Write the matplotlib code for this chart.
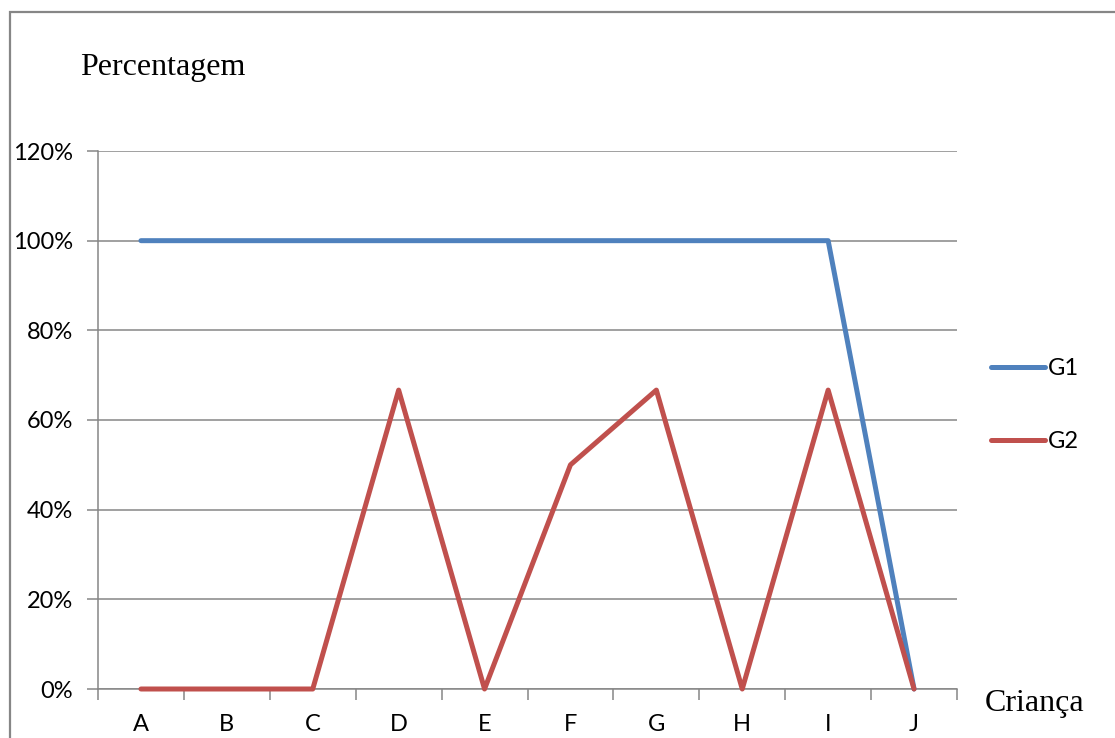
import matplotlib
matplotlib.use("Agg")
import matplotlib.pyplot as plt
from matplotlib.patches import Rectangle
from matplotlib.ticker import FixedLocator, PercentFormatter

# Data
criancas = ["A", "B", "C", "D", "E", "F", "G", "H", "I", "J"]
g1 = [1.0, 1.0, 1.0, 1.0, 1.0, 1.0, 1.0, 1.0, 1.0, 0.0]
g2 = [0.0, 0.0, 0.0, 0.6667, 0.0, 0.5, 0.6667, 0.0, 0.6667, 0.0]
y_ticks = [0.0, 0.2, 0.4, 0.6, 0.8, 1.0, 1.2]

W, H = 1115, 738
fig = plt.figure(figsize=(W / 100, H / 100), dpi=100)
fig.patch.set_facecolor("white")

grey = "#868686"
blue = "#4F81BD"
red = "#C0504D"
tick_font = "Lato"
serif = "Liberation Serif"
tick_size = 17

# Chart frame (extends past the right and bottom edges)
fig.patches.append(Rectangle((10 / W, -0.05), 1.2, (H - 12) / H + 0.05,
                             transform=fig.transFigure, fill=False,
                             edgecolor=grey, linewidth=1.6))

ax = fig.add_axes([98 / W, (H - 689) / H, (957 - 98) / W, (689 - 151) / H])
x = list(range(len(criancas)))

ax.plot(x, g1, color=blue, linewidth=3.6, solid_capstyle="round",
        solid_joinstyle="round", label="G1", clip_on=False, zorder=3)
ax.plot(x, g2, color=red, linewidth=3.6, solid_capstyle="round",
        solid_joinstyle="round", label="G2", clip_on=False, zorder=4)

ax.set_xlim(-0.5, len(criancas) - 0.5)
ax.set_ylim(0, 1.2)

ax.set_yticks(y_ticks)
ax.yaxis.set_major_formatter(PercentFormatter(1.0, decimals=0))
ax.grid(axis="y", color=grey, linewidth=1.1)
ax.set_axisbelow(True)

# Category labels centred, tick marks on category boundaries
ax.set_xticks(x)
ax.set_xticklabels(criancas)
ax.xaxis.set_minor_locator(FixedLocator([i - 0.5 for i in range(len(criancas) + 1)]))
ax.tick_params(axis="x", which="major", length=0, pad=18)
ax.tick_params(axis="x", which="minor", length=8, width=1.1, color=grey, direction="out")
ax.tick_params(axis="y", length=8, width=1.1, color=grey, direction="out", pad=10)

for lab in ax.get_xticklabels() + ax.get_yticklabels():
    lab.set_fontfamily(tick_font)
    lab.set_fontsize(tick_size)
    lab.set_color("black")

for side in ("top", "right"):
    ax.spines[side].set_visible(False)
for side in ("left", "bottom"):
    ax.spines[side].set_color(grey)
    ax.spines[side].set_linewidth(1.1)

fig.text(80 / W, 1 - 68 / H, "Percentagem", fontfamily=serif, fontsize=23,
         ha="left", va="center")
fig.text(985 / W, 1 - 703 / H, "Criança", fontfamily=serif, fontsize=23,
         ha="left", va="center")

leg = ax.legend(loc="center left", bbox_to_anchor=(991 / W, 1 - 405 / H),
                bbox_transform=fig.transFigure, frameon=False,
                prop={"family": tick_font, "size": tick_size},
                handlelength=2.3, handletextpad=0.1, labelspacing=2.2,
                borderpad=0, borderaxespad=0)
for line in leg.get_lines():
    line.set_linewidth(3.6)
    line.set_solid_capstyle("round")

fig.savefig("out.png", dpi=100)
